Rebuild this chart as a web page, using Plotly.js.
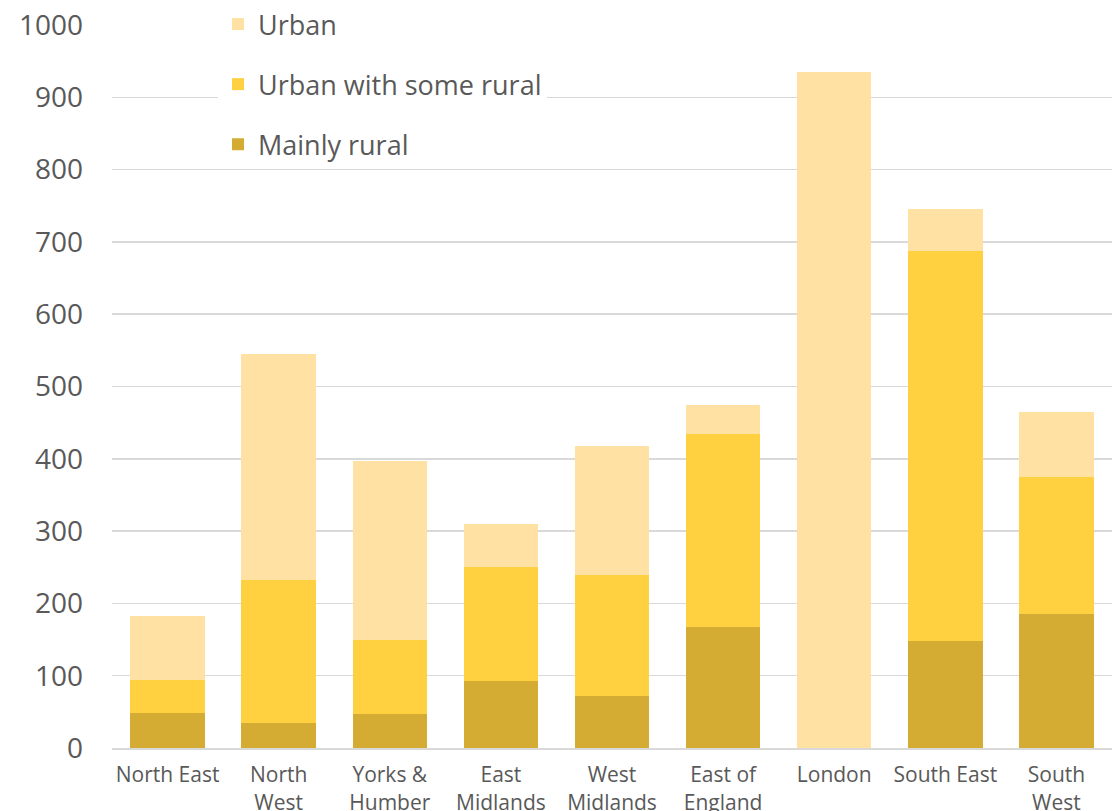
<!DOCTYPE html>
<html>
<head>
<meta charset="utf-8">
<script src="https://cdn.plot.ly/plotly-3.0.1.min.js"></script>
<style>html,body{margin:0;padding:0;background:#fff;}#chart{width:1112px;height:811px;}</style>
</head>
<body>
<div id="chart"></div>
<script>
const categories = ["North East", "North<br>West", "Yorks &<br>Humber", "East<br>Midlands", "West<br>Midlands", "East of<br>England", "London", "South East", "South<br>West"];
const mainlyRural = [48, 34, 47, 92, 72, 168, 0, 148, 186];
const urbanWithSomeRural = [46, 198, 103, 159, 167, 266, 0, 539, 189];
const urban = [88, 313, 247, 59, 179, 40, 935, 58, 90];
const yTicks = [0, 100, 200, 300, 400, 500, 600, 700, 800, 900, 1000];

const FONT = "'Open Sans', 'Liberation Sans', sans-serif";
const mk = (name, y, color, rank) => ({
  type: 'bar', name: name, x: categories, y: y, legendgroup: name, legendrank: rank,
  marker: {color: color, line: {width: 0}}, hoverinfo: 'skip'
});
const data = [
  mk('Mainly rural', mainlyRural, '#D4AC33', 3),
  mk('Urban with some rural', urbanWithSomeRural, '#FFD141', 2),
  mk('Urban', urban, '#FFE1A3', 1)
];
const layout = {
  width: 1112, height: 811,
  margin: {l: 112, r: 0, t: 23, b: 63},
  paper_bgcolor: '#fff', plot_bgcolor: '#fff',
  barmode: 'stack', bargap: 0.33,
  font: {family: FONT, color: '#595959'},
  showlegend: true,
  legend: {
    x: 0.106, y: 1.035, xanchor: 'left', yanchor: 'top',
    bgcolor: '#fff', traceorder: 'grouped', tracegroupgap: 22,
    font: {size: 27, color: '#595959', family: FONT},
    itemwidth: 30, borderwidth: 0
  },
  xaxis: {
    type: 'category', tickfont: {size: 21, color: '#595959', family: FONT},
    showgrid: false, showline: true, linecolor: '#D9D9D9', linewidth: 2,
    ticks: '', fixedrange: true, ticklabelstandoff: 7
  },
  yaxis: {
    range: [0, 1000], tickvals: yTicks, ticktext: yTicks.map(String),
    tickfont: {size: 28, color: '#595959', family: FONT},
    showgrid: true, gridcolor: '#D9D9D9', gridwidth: 1.5,
    zeroline: false, showline: false, ticks: '', ticklabelstandoff: 28
  }
};
Plotly.newPlot('chart', data, layout, {displayModeBar: false, staticPlot: true});
</script>
</body>
</html>
